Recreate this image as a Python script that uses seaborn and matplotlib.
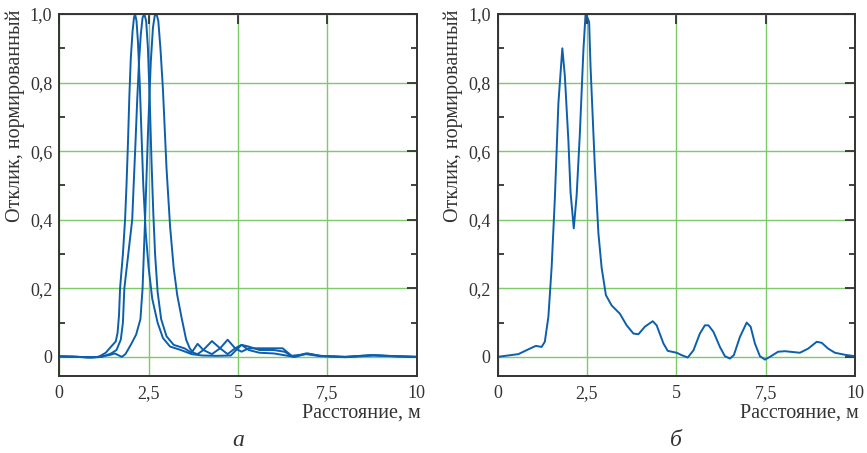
import numpy as np
import pandas as pd
import matplotlib
matplotlib.use("Agg")
import matplotlib.pyplot as plt
import seaborn as sns
from matplotlib.ticker import FixedLocator

# ---------------- data ----------------
# panel a: three normalized responses
a1_x = [0, 0.4, 0.8, 1.1, 1.3, 1.45, 1.58, 1.63, 1.67, 1.70, 1.78, 1.84, 1.88, 1.92, 1.96, 2.0,
        2.05, 2.09, 2.12, 2.16, 2.2, 2.25, 2.3, 2.35, 2.42, 2.5, 2.6, 2.75, 2.9, 3.1, 3.4, 3.7,
        4.0, 4.4, 4.8, 4.95, 5.1, 5.3, 5.6, 6.0, 6.3, 6.55, 6.9, 7.3, 8.0, 8.8, 9.4, 10]
a1_y = [0.002, 0.001, -0.002, 0.0, 0.012, 0.03, 0.045, 0.07, 0.12, 0.2, 0.3, 0.4, 0.5, 0.62, 0.76, 0.87,
        0.95, 0.99, 1.0, 0.98, 0.92, 0.8, 0.65, 0.5, 0.36, 0.26, 0.17, 0.1, 0.055, 0.03, 0.02, 0.008,
        0.004, 0.003, 0.004, 0.02, 0.035, 0.03, 0.02, 0.02, 0.015, 0.0, 0.01, 0.003, 0.0, 0.005, 0.002, 0.0]

a2_x = [0, 0.5, 0.9, 1.2, 1.45, 1.6, 1.72, 1.78, 1.82, 1.93, 2.04, 2.08, 2.13, 2.18, 2.23, 2.28,
        2.33, 2.38, 2.43, 2.48, 2.53, 2.58, 2.63, 2.68, 2.75, 2.85, 3.0, 3.2, 3.5, 3.7, 3.87, 4.03,
        4.27, 4.5, 4.71, 4.92, 5.1, 5.3, 5.6, 6.0, 6.25, 6.5, 6.9, 7.3, 8.0, 8.8, 9.5, 10]
a2_y = [0.001, 0.0, -0.002, 0.0, 0.01, 0.02, 0.05, 0.1, 0.2, 0.3, 0.4, 0.5, 0.62, 0.75, 0.86, 0.94,
        0.99, 1.0, 0.98, 0.9, 0.75, 0.57, 0.42, 0.3, 0.19, 0.11, 0.06, 0.035, 0.025, 0.012, 0.038, 0.02,
        0.008, 0.025, 0.05, 0.025, 0.015, 0.025, 0.025, 0.025, 0.025, 0.003, 0.008, 0.002, -0.001, 0.004, 0.001, 0.0]

a3_x = [0, 0.5, 1.0, 1.4, 1.55, 1.65, 1.75, 1.85, 2.0, 2.15, 2.27, 2.33, 2.4, 2.48, 2.56, 2.62,
        2.67, 2.72, 2.77, 2.83, 2.9, 3.0, 3.1, 3.2, 3.3, 3.42, 3.55, 3.65, 3.75, 3.87, 4.03, 4.27,
        4.5, 4.71, 4.92, 5.1, 5.3, 5.6, 6.0, 6.4, 6.6, 6.95, 7.3, 8.0, 8.7, 9.4, 10]
a3_y = [0.001, 0.0, -0.001, 0.005, 0.01, 0.005, 0.0, 0.008, 0.035, 0.065, 0.11, 0.2, 0.4, 0.65, 0.86, 0.96,
        0.995, 1.0, 0.98, 0.9, 0.78, 0.55, 0.38, 0.26, 0.18, 0.115, 0.05, 0.025, 0.012, 0.008, 0.02, 0.046,
        0.025, 0.008, 0.025, 0.035, 0.02, 0.012, 0.01, 0.003, 0.0, 0.01, 0.003, 0.0, 0.005, 0.002, 0.0]

# panel б: one normalized response
b_x = [0, 0.58, 0.9, 1.07, 1.23, 1.32, 1.42, 1.51, 1.60, 1.70, 1.81, 1.88, 1.98, 2.04, 2.13,
       2.21, 2.30, 2.40, 2.46, 2.51, 2.56, 2.60, 2.72, 2.82, 2.91, 3.03, 3.19, 3.42, 3.61, 3.80,
       3.94, 4.12, 4.34, 4.45, 4.64, 4.76, 5.01, 5.15, 5.32, 5.48, 5.66, 5.80, 5.90, 6.04, 6.22,
       6.36, 6.50, 6.61, 6.78, 6.97, 7.08, 7.20, 7.34, 7.48, 7.62, 7.85, 8.04, 8.46, 8.69, 8.93,
       9.07, 9.25, 9.44, 9.72, 10.0]
b_y = [0.0, 0.008, 0.024, 0.032, 0.029, 0.044, 0.117, 0.26, 0.46, 0.74, 0.90, 0.82, 0.63, 0.48, 0.375,
       0.47, 0.65, 0.895, 1.0, 0.99, 0.977, 0.846, 0.555, 0.36, 0.26, 0.18, 0.15, 0.126, 0.092, 0.068,
       0.066, 0.088, 0.104, 0.092, 0.039, 0.0175, 0.012, 0.005, -0.002, 0.019, 0.068, 0.092, 0.092, 0.073, 0.029,
       0.002, -0.005, 0.005, 0.058, 0.10, 0.088, 0.039, 0.002, -0.008, 0.0, 0.015, 0.0165, 0.012, 0.024, 0.044,
       0.041, 0.024, 0.012, 0.006, 0.002]

x_ticks = [0, 2.5, 5, 7.5, 10]
x_ticklabels = ["0", "2,5", "5", "7,5", "10"]
y_ticks = [0, 0.2, 0.4, 0.6, 0.8, 1.0]
y_ticklabels = ["0", "0,2", "0,4", "0,6", "0,8", "1,0"]
y_minor = [0.1, 0.3, 0.5, 0.7, 0.9]
x_label = "Расстояние, м"
y_label = "Отклик, нормированный"
panel_labels = ["а", "б"]

# ---------------- style ----------------
sns.set_theme(style="white")
plt.rcParams["font.family"] = ["Liberation Serif", "DejaVu Serif"]

LINE = "#0c5fac"
GRID = "#7ccb68"
DARK = "#333333"

fig = plt.figure(figsize=(8.67, 4.53), dpi=100)
ax1 = fig.add_axes([0.0684, 0.1706, 0.4122, 0.7984])
ax2 = fig.add_axes([0.5740, 0.1706, 0.4121, 0.7984])

curves_a = [(a1_x, a1_y), (a2_x, a2_y), (a3_x, a3_y)]
for i, (xs, ys) in enumerate(curves_a):
    df = pd.DataFrame({"x": xs, "y": ys})
    sns.lineplot(data=df, x="x", y="y", ax=ax1, color=LINE, linewidth=1.4,
                 sort=False, estimator=None)

dfb = pd.DataFrame({"x": b_x, "y": b_y})
sns.lineplot(data=dfb, x="x", y="y", ax=ax2, color=LINE, linewidth=1.4,
             sort=False, estimator=None)

for ax, lab in zip([ax1, ax2], panel_labels):
    ax.set_xlim(0, 10)
    ax.set_ylim(-0.055, 1.0)
    ax.xaxis.set_major_locator(FixedLocator(x_ticks))
    ax.set_xticklabels(x_ticklabels)
    ax.yaxis.set_major_locator(FixedLocator(y_ticks))
    ax.set_yticklabels(y_ticklabels)
    ax.yaxis.set_minor_locator(FixedLocator(y_minor))
    ax.grid(True, which="major", color=GRID, linewidth=1.0)
    ax.tick_params(which="major", direction="in", top=True, right=True, length=7,
                   width=1.3, color=DARK, labelsize=13, labelcolor=DARK)
    ax.tick_params(axis="x", which="major", pad=7)
    ax.tick_params(axis="y", which="major", pad=5)
    ax.tick_params(which="minor", direction="in", left=True, right=True, length=4,
                   width=1.3, color=DARK)
    for s in ax.spines.values():
        s.set_color(DARK)
        s.set_linewidth(1.4)
    ax.set_xlabel(x_label, fontsize=14.5, color=DARK, ha="right", va="center")
    ax.xaxis.set_label_coords(1.01, -0.103)
    ax.set_ylabel(y_label, fontsize=14.5, color=DARK, rotation=90, ha="center", va="top")
    ax.yaxis.set_label_coords(-0.124, 1.012)
    ax.yaxis.label.set_rotation_mode("default")
    ax.yaxis.label.set_verticalalignment("top")
    ax.yaxis.label.set_horizontalalignment("center")
    bb = ax.get_position()
    fig.text((bb.x0 + bb.x1) / 2, 1 - 440 / 453, lab, fontsize=17, style="italic",
             ha="center", va="center", color=DARK)

fig.savefig("out.png", dpi=100)
